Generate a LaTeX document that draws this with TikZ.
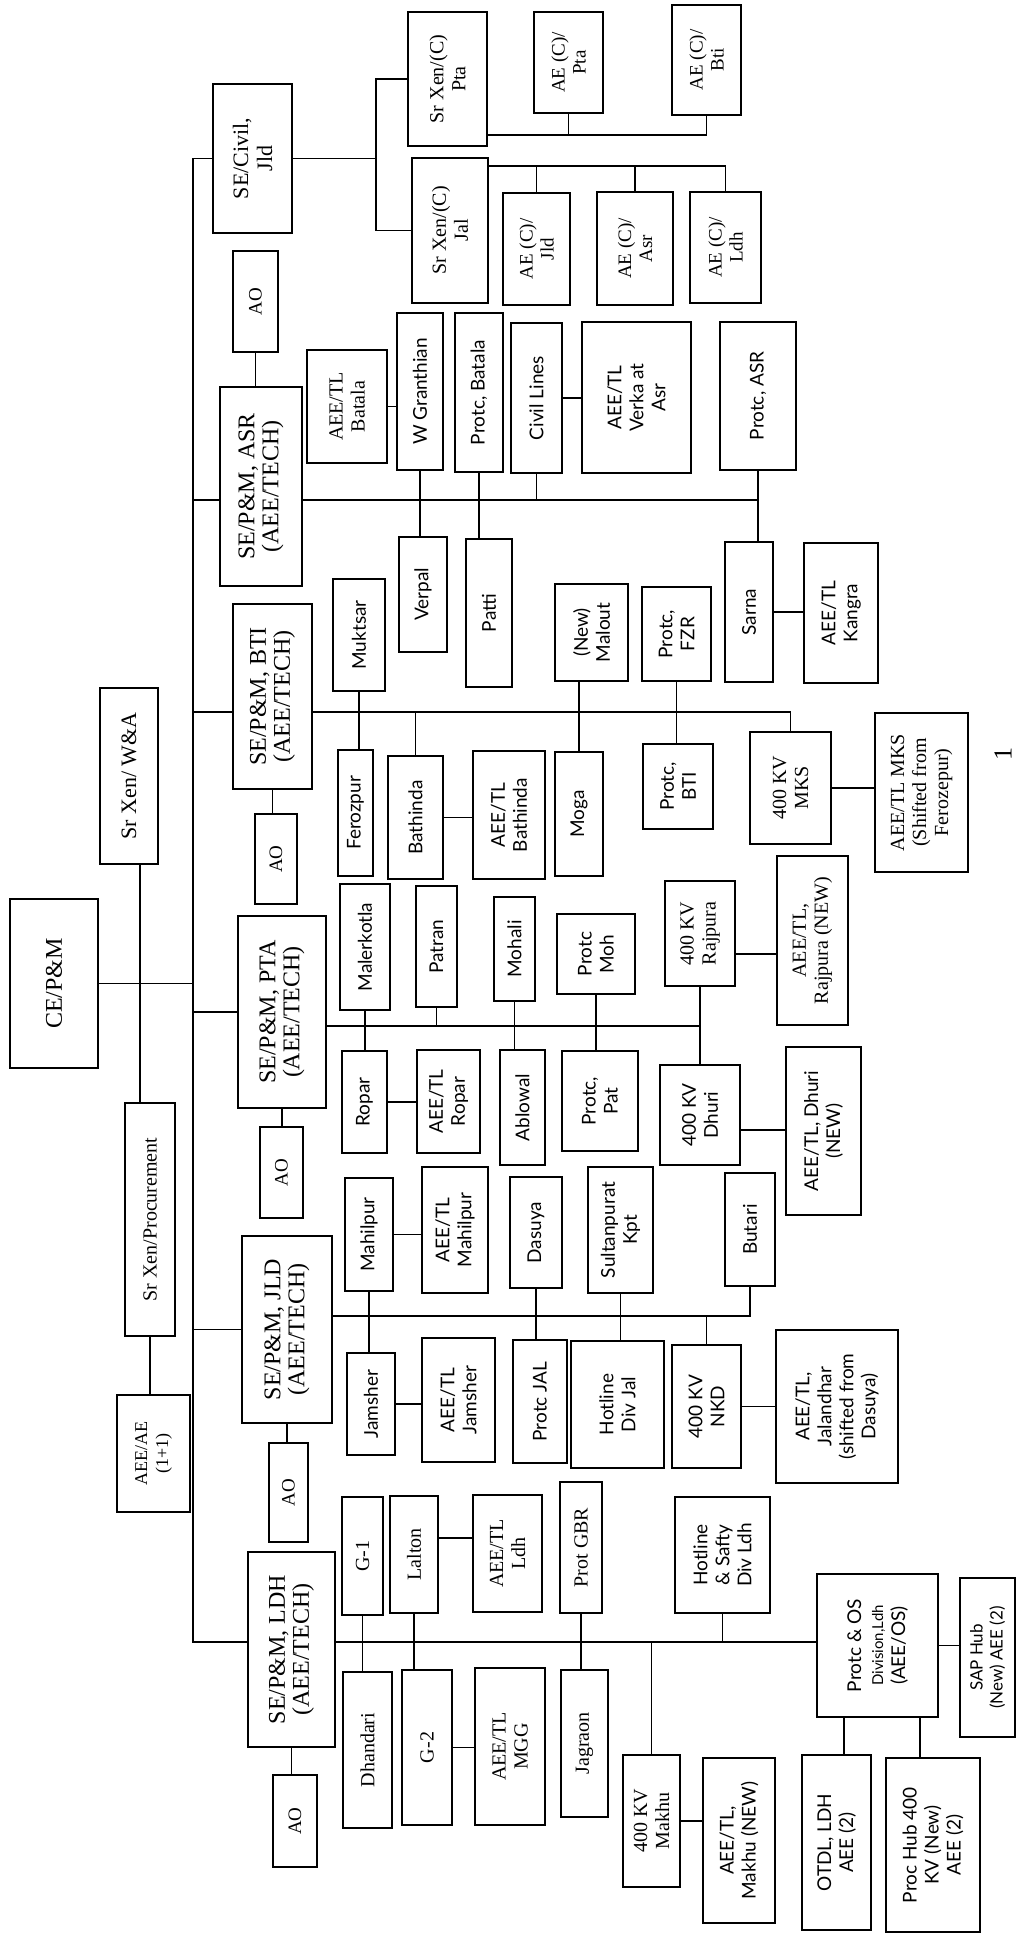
\documentclass[tikz,border=0pt]{standalone}
\usepackage{fontspec}
\setmainfont{Liberation Serif}
\newfontfamily\gillsans{Lato}

\begin{document}
\begin{tikzpicture}[x=1pt, y=-1pt,
      bx/.style={draw, rotate=90, align=center, inner sep=1pt, line width=1.8pt,
                 font=\fontsize{20}{22}\selectfont},
      sbx/.style={bx, font=\gillsans\fontsize{19}{22}\selectfont},
      sebx/.style={bx, font=\fontsize{24}{24}\selectfont},
      aobx/.style={bx, font=\fontsize{19}{21}\selectfont},
      link/.style={line width=1.8pt}]

    \useasboundingbox (0,0) rectangle (1018,1934);

    % head office column
    \node[sebx, minimum width=169pt, minimum height=88pt] (ce) at (54,983.5) {CE/P\&M};
    \node[bx, minimum width=176pt, minimum height=58pt, font=\fontsize{22}{24}\selectfont]
      (wa) at (129,776) {Sr Xen/ W\&A};
    \node[bx, minimum width=233pt, minimum height=50pt] (proc) at (150,1219.5) {Sr Xen/Procurement};
    \node[bx, minimum width=117pt, minimum height=73pt, font=\fontsize{18}{21}\selectfont]
      (aeae) at (153.5,1453.5) {AEE/AE\\(1+1)};

    % circles
    \node[bx, minimum width=149pt, minimum height=79pt, font=\fontsize{22}{24}\selectfont]
      (civil) at (252.5,158.5) {SE/Civil,\\Jld};
    \node[aobx, minimum width=101pt, minimum height=45pt] (aoasr) at (255.5,301.5) {AO};
    \node[sebx, minimum width=199pt, minimum height=82pt] (seasr) at (261,486.5) {SE/P\&M, ASR\\(AEE/TECH)};
    \node[sebx, minimum width=185pt, minimum height=79pt] (sebti) at (272.5,696.5) {SE/P\&M, BTI\\(AEE/TECH)};
    \node[aobx, minimum width=90pt, minimum height=42pt] (aobti) at (276,859) {AO};
    \node[sebx, minimum width=192pt, minimum height=88pt] (septa) at (282,1012) {SE/P\&M, PTA\\(AEE/TECH)};
    \node[aobx, minimum width=91pt, minimum height=43pt] (aopta) at (281.5,1172.5) {AO};
    \node[sebx, minimum width=187pt, minimum height=90pt] (sejld) at (287,1329.5) {SE/P\&M, JLD\\(AEE/TECH)};
    \node[aobx, minimum width=99pt, minimum height=39pt] (aojld) at (288.5,1492.5) {AO};
    \node[sebx, minimum width=195pt, minimum height=87pt] (seldh) at (291.5,1649.5) {SE/P\&M, LDH\\(AEE/TECH)};
    \node[aobx, minimum width=92pt, minimum height=44pt] (aoldh) at (295,1821) {AO};

    % civil wing
    \node[bx, minimum width=134pt, minimum height=79pt] (xpta) at (447.5,79) {Sr Xen/(C)\\Pta};
    \node[bx, minimum width=145pt, minimum height=76pt] (xjal) at (450,230.5) {Sr Xen/(C)\\Jal};
    \node[aobx, minimum width=101pt, minimum height=69pt] (aepta) at (568.5,62.5) {AE (C)/\\Pta};
    \node[aobx, minimum width=110pt, minimum height=69pt] (aebti) at (706.5,60) {AE (C)/\\Bti};
    \node[aobx, minimum width=112pt, minimum height=67pt] (aejld) at (536.5,249) {AE (C)/\\Jld};
    \node[aobx, minimum width=113pt, minimum height=76pt] (aeasr) at (635,248.5) {AE (C)/\\Asr};
    \node[aobx, minimum width=111pt, minimum height=71pt] (aeldh) at (725.5,247.5) {AE (C)/\\Ldh};

    % ASR
    \node[bx, minimum width=113pt, minimum height=80pt] (batala) at (347,406.5) {AEE/TL\\Batala};
    \node[sbx, minimum width=157pt, minimum height=46pt] (wgran) at (420,391.5) {W Granthian};
    \node[sbx, minimum width=159pt, minimum height=48pt] (protbat) at (479,392.5) {Protc, Batala};
    \node[sbx, minimum width=150pt, minimum height=51pt] (civlines) at (536.5,398) {Civil Lines};
    \node[sbx, minimum width=151pt, minimum height=109pt] (verka) at (636.5,397.5) {AEE/TL\\Verka at\\Asr};
    \node[sbx, minimum width=148pt, minimum height=76pt] (protasr) at (758,396) {Protc, ASR};
    \node[sbx, minimum width=115pt, minimum height=48pt] (verpal) at (423,594.5) {Verpal};
    \node[sbx, minimum width=148pt, minimum height=46pt] (patti) at (489,613) {Patti};
    \node[sbx, minimum width=140pt, minimum height=48pt] (sarna) at (749,612) {Sarna};
    \node[sbx, minimum width=140pt, minimum height=74pt] (kangra) at (841,613) {AEE/TL\\Kangra};

    % BTI
    \node[sbx, minimum width=112pt, minimum height=52pt] (muktsar) at (359,635) {Muktsar};
    \node[sbx, minimum width=97pt, minimum height=73pt] (malout) at (591.5,632.5) {(New)\\Malout};
    \node[sbx, minimum width=94pt, minimum height=69pt] (protfzr) at (676.5,634) {Protc,\\FZR};
    \node[sbx, minimum width=126pt, minimum height=35pt] (feroz) at (355.5,813) {Ferozpur};
    \node[sbx, minimum width=123pt, minimum height=55pt] (bathinda) at (415.5,817.5) {Bathinda};
    \node[sbx, minimum width=128pt, minimum height=72pt] (bathaee) at (509,815) {AEE/TL\\Bathinda};
    \node[sbx, minimum width=124pt, minimum height=48pt] (moga) at (579,814) {Moga};
    \node[sbx, minimum width=85pt, minimum height=70pt] (protbti) at (678,786.5) {Protc,\\BTI};
    \node[bx, minimum width=112pt, minimum height=81pt] (mks) at (790.5,788) {400 KV\\MKS};
    \node[bx, minimum width=159pt, minimum height=93pt] (mksaee) at (921.5,792.5)
      {AEE/TL MKS\\(Shifted from\\Ferozepur)};

    % PTA
    \node[sbx, minimum width=126pt, minimum height=50pt] (malerk) at (365,947) {Malerkotla};
    \node[sbx, minimum width=121pt, minimum height=41pt] (patran) at (436.5,946.5) {Patran};
    \node[sbx, minimum width=104pt, minimum height=41pt] (mohali) at (514.5,949) {Mohali};
    \node[sbx, minimum width=80pt, minimum height=78pt] (protmoh) at (596,954) {Protc\\Moh};
    \node[bx, minimum width=105pt, minimum height=70pt] (rajpura) at (700,933.5) {400 KV\\Rajpura};
    \node[bx, minimum width=169pt, minimum height=71pt] (rajaee) at (812.5,940.5) {AEE/TL,\\Rajpura (NEW)};
    \node[sbx, minimum width=102pt, minimum height=45pt] (ropar) at (364.5,1102) {Ropar};
    \node[sbx, minimum width=103pt, minimum height=63pt] (roparaee) at (448.5,1101.5) {AEE/TL\\Ropar};
    \node[sbx, minimum width=115pt, minimum height=45pt] (ablowal) at (522.5,1107.5) {Ablowal};
    \node[sbx, minimum width=100pt, minimum height=76pt] (protpat) at (600,1101) {Protc,\\Pat};
    \node[sbx, minimum width=100pt, minimum height=80pt] (dhuri) at (700,1115) {400 KV\\Dhuri};
    \node[sbx, minimum width=168pt, minimum height=75pt] (dhuriaee) at (823.5,1131) {AEE/TL, Dhuri\\(NEW)};

    % JLD
    \node[sbx, minimum width=113pt, minimum height=48pt] (mahil) at (369,1234.5) {Mahilpur};
    \node[sbx, minimum width=126pt, minimum height=66pt] (mahilaee) at (455,1230) {AEE/TL\\Mahilpur};
    \node[sbx, minimum width=111pt, minimum height=52pt] (dasuya) at (536,1232.5) {Dasuya};
    \node[sbx, minimum width=126pt, minimum height=65pt] (sultan) at (620.5,1230) {Sultanpurat\\Kpt};
    \node[sbx, minimum width=113pt, minimum height=50pt] (butari) at (750,1229.5) {Butari};
    \node[sbx, minimum width=102pt, minimum height=48pt] (jamsher) at (371,1404) {Jamsher};
    \node[sbx, minimum width=124pt, minimum height=73pt] (jamaee) at (458.5,1400) {AEE/TL\\Jamsher};
    \node[sbx, minimum width=123pt, minimum height=54pt] (protjal) at (540,1401.5) {Protc JAL};
    \node[sbx, minimum width=127pt, minimum height=93pt] (hotjal) at (617.5,1404.5) {Hotline\\Div Jal};
    \node[sbx, minimum width=123pt, minimum height=69pt] (nkd) at (706.5,1406.5) {400 KV\\NKD};
    \node[sbx, minimum width=153pt, minimum height=122pt] (jalaee) at (837,1406.5)
      {AEE/TL,\\Jalandhar\\(shifted from\\Dasuya)};

    % LDH
    \node[bx, minimum width=118pt, minimum height=41pt] (g1) at (362.5,1556) {G-1};
    \node[bx, minimum width=117pt, minimum height=48pt] (lalton) at (414,1554.5) {Lalton};
    \node[bx, minimum width=117pt, minimum height=69pt] (ldhaee) at (507.5,1553.5) {AEE/TL\\Ldh};
    \node[bx, minimum width=131pt, minimum height=42pt] (gbr) at (581,1547.5) {Prot GBR};
    \node[sbx, minimum width=116pt, minimum height=95pt] (hotsaf) at (722.5,1555) {Hotline\\\& Safty\\Div Ldh};
    \node[bx, minimum width=156pt, minimum height=49pt] (dhand) at (367.5,1750) {Dhandari};
    \node[bx, minimum width=155pt, minimum height=50pt] (g2) at (427,1747.5) {G-2};
    \node[bx, minimum width=157pt, minimum height=70pt] (mgg) at (510,1746.5) {AEE/TL\\MGG};
    \node[bx, minimum width=147pt, minimum height=47pt] (jagraon) at (584.5,1743.5) {Jagraon};
    \node[bx, minimum width=132pt, minimum height=57pt] (makhu) at (651.5,1821) {400 KV\\Makhu};
    \node[sbx, minimum width=165pt, minimum height=72pt] (makhuaee) at (739,1840.5) {AEE/TL,\\Makhu (NEW)};
    \node[sbx, minimum width=143pt, minimum height=121pt] (protos) at (877.5,1645.5)
      {Protc \& OS\\{\fontsize{15}{20}\selectfont Division,Ldh}\\(AEE/OS)};
    \node[sbx, minimum width=159pt, minimum height=55pt, font=\gillsans\fontsize{17}{20}\selectfont]
      (saphub) at (987.5,1657.5) {SAP Hub\\(New) AEE (2)};
    \node[sbx, minimum width=175pt, minimum height=69pt] (otdl) at (836.5,1842.5) {OTDL, LDH\\AEE (2)};
    \node[sbx, minimum width=174pt, minimum height=94pt] (prochub) at (933,1845) {Proc Hub 400\\KV (New)\\AEE (2)};

    \node[rotate=90, font=\fontsize{26}{26}\selectfont] (pgno) at (1003,754) {1};

    % bus levels
    \coordinate (mbus) at (193,0);
    \coordinate (asrbus) at (0,500);
    \coordinate (btibus) at (0,712);
    \coordinate (ptabus) at (0,1026);
    \coordinate (jldbus) at (0,1316);
    \coordinate (ldhbus) at (0,1642);
    \coordinate (cpta) at (0,135);
    \coordinate (cjal) at (0,166);
    \coordinate (wlnk) at (140,0);
    \coordinate (rajlnk) at (0,954);
    \coordinate (dhulnk) at (0,1130);
    \coordinate (ldhlnk) at (0,1538);
    \coordinate (oslnk) at (844,0);
    \coordinate (hublnk) at (920,0);

    % trunk
    \draw[link] (civil.north) -- (civil.north -| mbus) -- (mbus |- ldhbus) -- (seldh.north |- ldhbus);
    \draw[link] (mbus |- asrbus) -- (seasr.north |- asrbus);
    \draw[link] (mbus |- btibus) -- (sebti.north |- btibus);
    \draw[link] (ce.south) -- (ce.south -| mbus);
    \draw[link] (mbus |- septa.north) -- (septa.north);
    \draw[link] (mbus |- sejld.north) -- (sejld.north);
    \draw[link] (wlnk |- wa.west) -- (wlnk |- proc.east);
    \draw[link] (proc.west) -- (proc.west |- aeae.east);

    % AO offices
    \draw[link] (aoasr.west) -- (aoasr.west |- seasr.east);
    \draw[link] (sebti.west) -- (sebti.west |- aobti.east);
    \draw[link] (septa.west) -- (septa.west |- aopta.east);
    \draw[link] (sejld.west) -- (sejld.west |- aojld.east);
    \draw[link] (seldh.west) -- (seldh.west |- aoldh.east);

    % civil wing
    \draw[link] (xpta.north) -- ++(-31,0) coordinate (cbus) |- (xjal.north);
    \draw[link] (civil.south) -- (civil.south -| cbus);
    \draw[link] (xpta.south |- cpta) -| (aebti.west);
    \draw[link] (aepta.west) -- (aepta.west |- cpta);
    \draw[link] (xjal.south |- cjal) -| (aeldh.east);
    \draw[link] (aejld.east) -- (aejld.east |- cjal);
    \draw[link] (aeasr.east) -- (aeasr.east |- cjal);

    % ASR
    \draw[link] (seasr.south |- asrbus) -- (protasr.west |- asrbus);
    \draw[link] (protasr.west) -- (protasr.west |- sarna.east);
    \draw[link] (wgran.west) -- (wgran.west |- verpal.east);
    \draw[link] (protbat.west) -- (protbat.west |- patti.east);
    \draw[link] (civlines.west) -- (civlines.west |- asrbus);
    \draw[link] (batala.south) -- (batala.south -| wgran.north);
    \draw[link] (civlines.south) -- (civlines.south -| verka.north);
    \draw[link] (sarna.south) -- (sarna.south -| kangra.north);

    % BTI
    \draw[link] (sebti.south |- btibus) -| (mks.east);
    \draw[link] (muktsar.west) -- (muktsar.west |- feroz.east);
    \draw[link] (bathinda.east) -- (bathinda.east |- btibus);
    \draw[link] (moga.east) -- (moga.east |- malout.west);
    \draw[link] (protfzr.west) -- (protfzr.west |- protbti.east);
    \draw[link] (bathinda.south) -- (bathinda.south -| bathaee.north);
    \draw[link] (mks.south) -- (mks.south -| mksaee.north);

    % PTA
    \draw[link] (septa.south |- ptabus) -- (rajpura.west |- ptabus);
    \draw[link] (rajpura.west) -- (rajpura.west |- dhuri.east);
    \draw[link] (malerk.west) -- (malerk.west |- ropar.east);
    \draw[link] (patran.west) -- (patran.west |- ptabus);
    \draw[link] (mohali.west) -- (mohali.west |- ablowal.east);
    \draw[link] (protmoh.west) -- (protmoh.west |- protpat.east);
    \draw[link] (ropar.south) -- (ropar.south -| roparaee.north);
    \draw[link] (rajpura.south |- rajlnk) -- (rajaee.north |- rajlnk);
    \draw[link] (dhuri.south |- dhulnk) -- (dhuriaee.north |- dhulnk);

    % JLD
    \draw[link] (sejld.south |- jldbus) -| (butari.west);
    \draw[link] (mahil.west) -- (mahil.west |- jamsher.east);
    \draw[link] (dasuya.west) -- (dasuya.west |- protjal.east);
    \draw[link] (sultan.west) -- (sultan.west |- hotjal.east);
    \draw[link] (nkd.east) -- (nkd.east |- jldbus);
    \draw[link] (mahil.south) -- (mahil.south -| mahilaee.north);
    \draw[link] (jamsher.south) -- (jamsher.south -| jamaee.north);
    \draw[link] (nkd.south) -- (nkd.south -| jalaee.north);

    % LDH
    \draw[link] (seldh.south |- ldhbus) -- (protos.north |- ldhbus);
    \draw[link] (g1.west) -- (g1.west |- dhand.east);
    \draw[link] (lalton.west) -- (lalton.west |- g2.east);
    \draw[link] (gbr.west) -- (gbr.west |- jagraon.east);
    \draw[link] (hotsaf.west) -- (hotsaf.west |- ldhbus);
    \draw[link] (makhu.east) -- (makhu.east |- ldhbus);
    \draw[link] (lalton.south |- ldhlnk) -- (ldhaee.north |- ldhlnk);
    \draw[link] (g2.south) -- (g2.south -| mgg.north);
    \draw[link] (makhu.south) -- (makhu.south -| makhuaee.north);
    \draw[link] (protos.south) -- (protos.south -| saphub.north);
    \draw[link] (oslnk |- protos.west) -- (oslnk |- otdl.east);
    \draw[link] (hublnk |- protos.west) -- (hublnk |- prochub.east);
  \end{tikzpicture}
\end{document}
